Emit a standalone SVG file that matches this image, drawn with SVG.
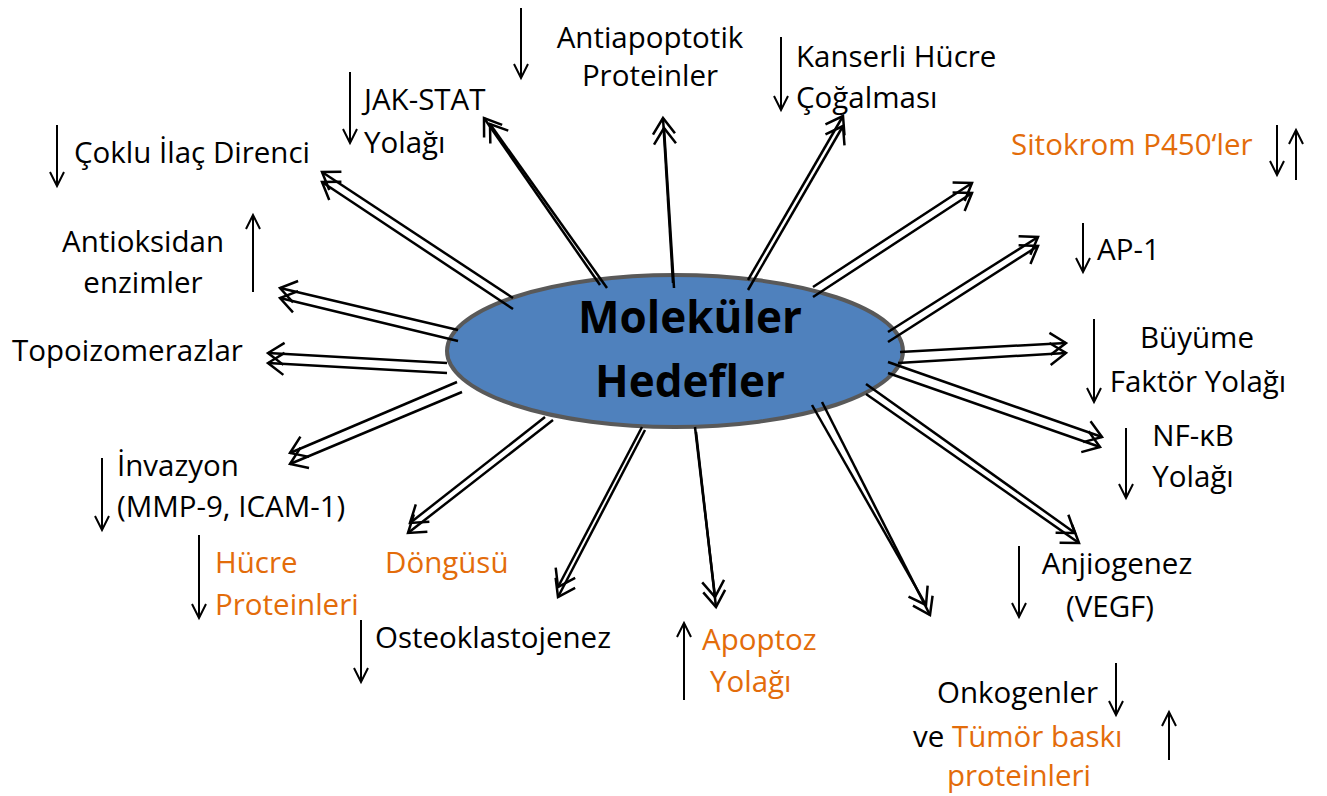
<svg xmlns="http://www.w3.org/2000/svg" width="1327" height="796" viewBox="0 0 1327 796">
<style>
.t{font-family:"Open Sans","Liberation Sans",sans-serif;font-size:29.5px;fill:#000}
.o{fill:#E36C0A}
.m{text-anchor:middle}
.title{font-family:"Open Sans","Liberation Sans",sans-serif;font-size:44px;font-weight:bold;fill:#000;text-anchor:middle}
.c{stroke:#000;stroke-width:2.5;fill:none;marker-end:url(#ah)}
.ind{stroke:#000;stroke-width:2;fill:none;marker-end:url(#ai)}
</style>
<defs>
<marker id="ah" markerUnits="userSpaceOnUse" orient="auto" markerWidth="30" markerHeight="30" viewBox="-22 -15 30 30" refX="0" refY="0" overflow="visible">
<path d="M-16,-11 L0,0 L-16,11" fill="none" stroke="#000" stroke-width="2.5"/>
</marker>
<marker id="ai" markerUnits="userSpaceOnUse" orient="auto" markerWidth="24" markerHeight="24" viewBox="-18 -12 24 24" refX="0" refY="0" overflow="visible">
<path d="M-14,-7 L0,0 L-14,7" fill="none" stroke="#000" stroke-width="2"/>
</marker>
</defs>
<rect width="1327" height="796" fill="#fff"/>
<g id="n-center">
<ellipse cx="675" cy="351" rx="228" ry="76" fill="#4F81BD" stroke="#595959" stroke-width="4"/>
<text class="title" x="690" y="333">Moleküler</text>
<text class="title" x="690" y="397">Hedefler</text>
</g>
<g id="connectors">
<line class="c" x1="513" y1="298" x2="322" y2="172"/><line class="c" x1="513" y1="309" x2="322" y2="182"/>
<line class="c" x1="458" y1="330" x2="280" y2="288"/><line class="c" x1="458" y1="341" x2="280" y2="298"/>
<line class="c" x1="447" y1="363" x2="268" y2="353"/><line class="c" x1="447" y1="373" x2="268" y2="363"/>
<line class="c" x1="457" y1="382" x2="290" y2="453"/><line class="c" x1="462" y1="392" x2="290" y2="464"/>
<line class="c" x1="545" y1="417" x2="410" y2="523"/><line class="c" x1="553" y1="420" x2="408" y2="533"/>
<line class="c" x1="642" y1="427" x2="558" y2="587"/><line class="c" x1="645" y1="430" x2="558" y2="597"/>
<line class="c" x1="695" y1="427" x2="715" y2="597"/><line class="c" x1="696" y1="432" x2="716" y2="607"/>
<line class="c" x1="812" y1="405" x2="926" y2="605"/><line class="c" x1="822" y1="402" x2="930" y2="615"/>
<line class="c" x1="866" y1="384" x2="1075" y2="533"/><line class="c" x1="866" y1="394" x2="1079" y2="543"/>
<line class="c" x1="888" y1="362" x2="1102" y2="437"/><line class="c" x1="888" y1="373" x2="1100" y2="447"/>
<line class="c" x1="900" y1="352" x2="1066" y2="343"/><line class="c" x1="898" y1="363" x2="1066" y2="353"/>
<line class="c" x1="888" y1="332" x2="1038" y2="237"/><line class="c" x1="888" y1="342" x2="1038" y2="246"/>
<line class="c" x1="813" y1="287" x2="972" y2="183"/><line class="c" x1="813" y1="297" x2="972" y2="193"/>
<line class="c" x1="748" y1="280" x2="843" y2="116"/><line class="c" x1="748" y1="290" x2="843" y2="126"/>
<line class="c" x1="673" y1="283" x2="663" y2="118"/><line class="c" x1="674" y1="288" x2="664" y2="128"/>
<line class="c" x1="600" y1="285" x2="484" y2="118"/><line class="c" x1="607" y1="288" x2="490" y2="124"/>
</g>
<g id="n-antiapoptotik">
<line class="ind" x1="521" y1="8" x2="521" y2="78"/>
<text class="t m" x="650" y="48">Antiapoptotik</text>
<text class="t m" x="650" y="86">Proteinler</text>
</g>
<g id="n-jakstat">
<line class="ind" x1="350" y1="72" x2="350" y2="143"/>
<text class="t" x="364" y="110">JAK-STAT</text>
<text class="t" x="364" y="153">Yolağı</text>
</g>
<g id="n-coklu">
<line class="ind" x1="57" y1="125" x2="57" y2="186"/>
<text class="t" x="74" y="163">Çoklu İlaç Direnci</text>
</g>
<g id="n-kanserli">
<line class="ind" x1="781" y1="37" x2="781" y2="110"/>
<text class="t" x="796" y="67">Kanserli Hücre</text>
<text class="t" x="796" y="108">Çoğalması</text>
</g>
<g id="n-sitokrom">
<text class="t o" x="1011" y="155">Sitokrom P450‘ler</text>
<line class="ind" x1="1277" y1="125" x2="1277" y2="175"/>
<line class="ind" x1="1296" y1="180" x2="1296" y2="130"/>
</g>
<g id="n-antioksidan">
<line class="ind" x1="253" y1="292" x2="253" y2="215"/>
<text class="t m" x="143" y="252">Antioksidan</text>
<text class="t m" x="143" y="293">enzimler</text>
</g>
<g id="n-topo">
<text class="t" x="12" y="361">Topoizomerazlar</text>
</g>
<g id="n-ap1">
<line class="ind" x1="1083" y1="223" x2="1083" y2="272"/>
<text class="t" x="1097" y="260">AP-1</text>
</g>
<g id="n-buyume">
<line class="ind" x1="1094" y1="319" x2="1094" y2="402"/>
<text class="t m" x="1197" y="348">Büyüme</text>
<text class="t m" x="1198" y="392">Faktör Yolağı</text>
</g>
<g id="n-nfkb">
<line class="ind" x1="1126" y1="428" x2="1126" y2="498"/>
<text class="t m" x="1193" y="446">NF-κB</text>
<text class="t m" x="1193" y="487">Yolağı</text>
</g>
<g id="n-invazyon">
<line class="ind" x1="102" y1="458" x2="102" y2="530"/>
<text class="t" x="117" y="476">İnvazyon</text>
<text class="t" x="117" y="517">(MMP-9, ICAM-1)</text>
</g>
<g id="n-hucre">
<line class="ind" x1="199" y1="535" x2="199" y2="618"/>
<text class="t o" x="215" y="573">Hücre</text>
<text class="t o" x="215" y="615">Proteinleri</text>
<text class="t o" x="385" y="573">Döngüsü</text>
</g>
<g id="n-osteo">
<line class="ind" x1="361" y1="620" x2="361" y2="682"/>
<text class="t" x="375" y="648">Osteoklastojenez</text>
</g>
<g id="n-apoptoz">
<line class="ind" x1="684" y1="700" x2="684" y2="623"/>
<text class="t o" x="702" y="650">Apoptoz</text>
<text class="t o" x="710" y="692">Yolağı</text>
</g>
<g id="n-anjiogenez">
<line class="ind" x1="1019" y1="546" x2="1019" y2="617"/>
<text class="t m" x="1117" y="574">Anjiogenez</text>
<text class="t m" x="1110" y="617">(VEGF)</text>
</g>
<g id="n-onkogenler">
<text class="t" x="937" y="703">Onkogenler</text>
<line class="ind" x1="1116" y1="663" x2="1116" y2="715"/>
<text class="t" x="913" y="747">ve <tspan class="o">Tümör baskı</tspan></text>
<text class="t o" x="947" y="786">proteinleri</text>
<line class="ind" x1="1169" y1="760" x2="1169" y2="712"/>
</g>
</svg>
